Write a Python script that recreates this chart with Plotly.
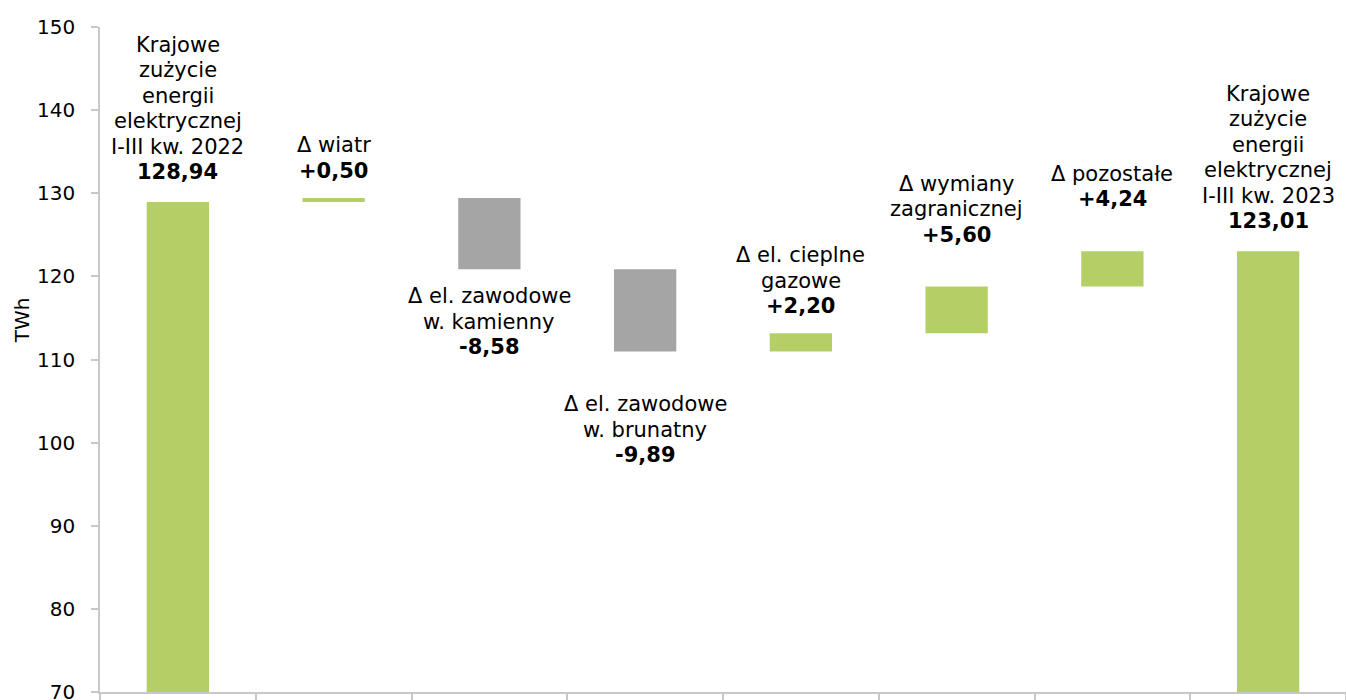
import plotly.graph_objects as go

categories = ["Krajowe 2022", "wiatr", "kamienny", "brunatny", "gazowe", "wymiany", "pozostałe", "Krajowe 2023"]
start_value = 128.94
deltas = [0.50, -8.58, -9.89, 2.20, 5.60, 4.24]
end_value = 123.01
label_lines = [
    ["Krajowe", "zużycie", "energii", "elektrycznej", "I-III kw. 2022"],
    ["Δ wiatr"],
    ["Δ el. zawodowe", "w. kamienny"],
    ["Δ el. zawodowe", "w. brunatny"],
    ["Δ el. cieplne", "gazowe"],
    ["Δ wymiany", "zagranicznej"],
    ["Δ pozostałe"],
    ["Krajowe", "zużycie", "energii", "elektrycznej", "I-III kw. 2023"],
]
value_labels = ["128,94", "+0,50", "-8,58", "-9,89", "+2,20", "+5,60", "+4,24", "123,01"]
y_title = "TWh"

# label placement (pixel gap between bar edge and nearest text line centre)
label_gap_px = [30, 27, 27, 53, 27, 52, 52, 30]
LINE_STEP = 25.5

GREEN = "#B3CF66"
GRAY = "#A5A5A5"
AXIS_MIN = 70

bases, heights, colors = [], [], []
bases.append(AXIS_MIN)
heights.append(start_value - AXIS_MIN)
colors.append(GREEN)
level = start_value
for d in deltas:
    new = level + d
    bases.append(min(level, new))
    heights.append(abs(d))
    colors.append(GREEN if d >= 0 else GRAY)
    level = new
bases.append(AXIS_MIN)
heights.append(end_value - AXIS_MIN)
colors.append(GREEN)

fig = go.Figure()
fig.add_trace(go.Bar(
    x=categories, y=heights, base=bases,
    marker=dict(color=colors, line=dict(width=0)),
    width=0.4, hoverinfo="skip", cliponaxis=False,
))

font_family = "DejaVu Sans"
signs = [1] + [1 if d >= 0 else -1 for d in deltas] + [1]
for i, cat in enumerate(categories):
    lines = label_lines[i] + ["<b>" + value_labels[i] + "</b>"]
    n = len(lines)
    top = bases[i] + heights[i]
    for k, line in enumerate(lines):
        if signs[i] > 0:
            y = top
            shift = label_gap_px[i] + (n - 1 - k) * LINE_STEP
        else:
            y = bases[i]
            shift = -(label_gap_px[i] + k * LINE_STEP)
        fig.add_annotation(x=cat, y=y, text=line, showarrow=False,
                           yanchor="middle", yshift=shift,
                           font=dict(family=font_family, size=21, color="#000000"))

# y-axis title (placed like the reference, above the axis middle)
fig.add_annotation(xref="paper", yref="paper", x=0, y=0.559, xshift=-78,
                   text=y_title, textangle=-90, showarrow=False,
                   xanchor="center", yanchor="middle",
                   font=dict(family=font_family, size=20, color="#000000"))

fig.update_layout(
    width=1346, height=700,
    margin=dict(l=100, r=0, t=27, b=8),
    paper_bgcolor="white", plot_bgcolor="white",
    showlegend=False, bargap=0.6,
    font=dict(family=font_family, size=18, color="#000000"),
)
fig.update_yaxes(
    range=[70, 150], dtick=10, showgrid=False, zeroline=False,
    showline=True, linecolor="#C8C8C8", linewidth=1.5,
    ticks="outside", ticklen=7, tickcolor="#C8C8C8", tickwidth=1.5,
    tickfont=dict(size=20), ticklabelstandoff=12, ticklabeloverflow="allow",
    automargin=False,
)
fig.update_xaxes(
    showticklabels=False, showgrid=False, zeroline=False,
    showline=True, linecolor="#C8C8C8", linewidth=1.5,
    ticks="outside", ticklen=7, tickcolor="#C8C8C8", tickwidth=1.5,
    tickson="boundaries", range=[-0.5, 7.5],
)

fig.write_html("out.html")
